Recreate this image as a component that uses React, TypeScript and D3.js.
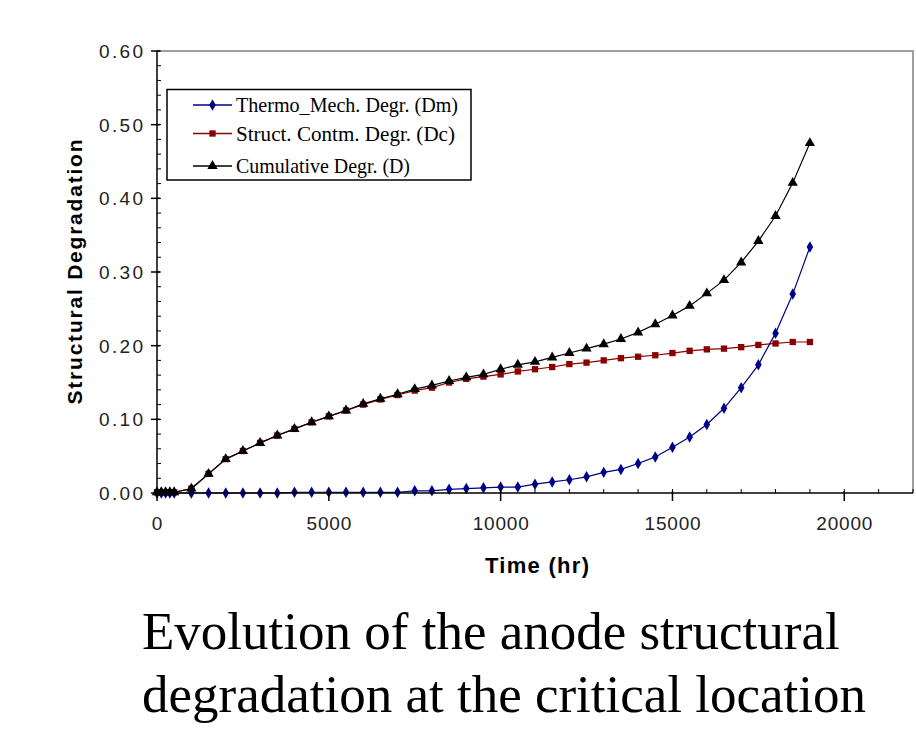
import React from "react";
import * as d3 from "d3";

const timeHr = [0, 125, 250, 375, 500, 1000, 1500, 2000, 2500, 3000, 3500, 4000, 4500, 5000, 5500, 6000, 6500, 7000, 7500, 8000, 8500, 9000, 9500, 10000, 10500, 11000, 11500, 12000, 12500, 13000, 13500, 14000, 14500, 15000, 15500, 16000, 16500, 17000, 17500, 18000, 18500, 19000];

const thermoMech = [0, 0, 0, 0, 0, 0, 0, 0, 0, 0, 0, 0.001, 0.001, 0.001, 0.001, 0.001, 0.001, 0.001, 0.003, 0.003, 0.005, 0.006, 0.007, 0.008, 0.008, 0.012, 0.015, 0.018, 0.022, 0.028, 0.032, 0.040, 0.049, 0.062, 0.076, 0.093, 0.115, 0.143, 0.174, 0.217, 0.270, 0.334];

const structContm = [0.001, 0.001, 0.001, 0.001, 0.001, 0.006, 0.026, 0.046, 0.057, 0.068, 0.078, 0.087, 0.096, 0.104, 0.112, 0.120, 0.127, 0.133, 0.139, 0.143, 0.150, 0.155, 0.158, 0.161, 0.165, 0.168, 0.171, 0.175, 0.177, 0.180, 0.183, 0.185, 0.187, 0.190, 0.193, 0.195, 0.196, 0.198, 0.201, 0.203, 0.205, 0.205];

const cumulative = [0.001, 0.001, 0.001, 0.001, 0.001, 0.006, 0.026, 0.046, 0.057, 0.068, 0.078, 0.087, 0.096, 0.104, 0.112, 0.121, 0.128, 0.134, 0.141, 0.146, 0.152, 0.157, 0.161, 0.168, 0.174, 0.178, 0.184, 0.190, 0.196, 0.202, 0.209, 0.218, 0.229, 0.241, 0.254, 0.271, 0.289, 0.313, 0.342, 0.376, 0.421, 0.475];

const seriesNames = ["Thermo_Mech. Degr. (Dm)", "Struct. Contm. Degr. (Dc)", "Cumulative Degr. (D)"];
const seriesColors = ["#000088", "#8b0000", "#000000"];

const xMajorTicks = [0, 5000, 10000, 15000, 20000];
const yMajorTicks = [0, 0.1, 0.2, 0.3, 0.4, 0.5, 0.6];

const captionLines = ["Evolution of the anode structural", "degradation at the critical location"];

export default function App() {
  const left = 157, right = 913, top = 51, bottom = 493;
  const x = d3.scaleLinear().domain([0, 22000]).range([left, right]);
  const y = d3.scaleLinear().domain([0, 0.6]).range([bottom, top]);

  const xMinor = d3.range(0, 22001, 1000);
  const yMinor = d3.range(0, 0.6001, 0.02);

  const series = [
    { name: seriesNames[1], color: seriesColors[1], values: structContm, symbol: d3.symbolSquare, size: 40 },
    { name: seriesNames[0], color: seriesColors[0], values: thermoMech, symbol: d3.symbolDiamond, size: 38 },
    { name: seriesNames[2], color: seriesColors[2], values: cumulative, symbol: d3.symbolTriangle, size: 46 },
  ];

  const line = d3.line<[number, number]>().x((d) => x(d[0])).y((d) => y(d[1]));
  const fmtY = d3.format(".2f");

  const legendItems = [
    { name: seriesNames[0], color: seriesColors[0], symbol: d3.symbolDiamond, size: 38, len: 222 },
    { name: seriesNames[1], color: seriesColors[1], symbol: d3.symbolSquare, size: 40, len: 219 },
    { name: seriesNames[2], color: seriesColors[2], symbol: d3.symbolTriangle, size: 46, len: 174 },
  ];
  const legendRowY = [105, 133.5, 166];

  return (
    <svg width={916} height={734} style={{ position: "absolute", left: 0, top: 0, background: "#fff" }}>
      <rect x={0} y={0} width={916} height={734} fill="#fff" />
      <path d={`M${left},${top}H${right}V${bottom}`} fill="none" stroke="#a0a0a0" strokeWidth={2} />

      {series.map((s) => {
        const pts = timeHr.map((t, i) => [t, s.values[i]] as [number, number]);
        const sym = d3.symbol().type(s.symbol).size(s.size)();
        return (
          <g key={s.name}>
            <path d={line(pts) || ""} fill="none" stroke={s.color} strokeWidth={1.2} />
            {pts.map((p, i) => (
              <path key={i} d={sym || ""} transform={`translate(${x(p[0])},${y(p[1])})`} fill={s.color} />
            ))}
          </g>
        );
      })}

      <line x1={left} x2={right} y1={bottom} y2={bottom} stroke="#000" strokeWidth={1.5} />
      <line x1={left} x2={left} y1={top} y2={bottom} stroke="#000" strokeWidth={1.5} />
      {xMinor.map((t) => (
        <line key={"xm" + t} x1={x(t)} x2={x(t)} y1={bottom - 4} y2={bottom} stroke="#000" strokeWidth={1} />
      ))}
      {yMinor.map((t, i) => (
        <line key={"ym" + i} x1={left} x2={left + 4} y1={y(t)} y2={y(t)} stroke="#000" strokeWidth={1} />
      ))}
      {xMajorTicks.map((t) => (
        <g key={"xM" + t}>
          <line x1={x(t)} x2={x(t)} y1={bottom - 2} y2={bottom + 8} stroke="#000" strokeWidth={1.5} />
          <text x={x(t) + 0.5} y={530} textAnchor="middle" fontFamily="Liberation Sans, Arial, sans-serif" fontSize={19} letterSpacing={0.8} fill="#222">
            {t}
          </text>
        </g>
      ))}
      {yMajorTicks.map((t) => (
        <g key={"yM" + t}>
          <line x1={left - 6} x2={left + 3} y1={y(t)} y2={y(t)} stroke="#000" strokeWidth={1.5} />
          <text x={143} y={y(t) + 7} textAnchor="end" fontFamily="Liberation Sans, Arial, sans-serif" fontSize={19} textLength={44} lengthAdjust="spacing" fill="#222">
            {fmtY(t)}
          </text>
        </g>
      ))}

      <text x={537} y={573} textAnchor="middle" fontFamily="Liberation Sans, Arial, sans-serif" fontWeight="bold" fontSize={22} textLength={104} lengthAdjust="spacing" fill="#000">
        Time (hr)
      </text>
      <text transform={`translate(82,${(top + bottom) / 2}) rotate(-90)`} textAnchor="middle" fontFamily="Liberation Sans, Arial, sans-serif" fontWeight="bold" fontSize={21} textLength={265} lengthAdjust="spacing" fill="#000">
        Structural Degradation
      </text>

      <rect x={167} y={89.5} width={304} height={90.5} fill="#fff" stroke="#000" strokeWidth={1.5} />
      {legendItems.map((it, i) => {
        const sym = d3.symbol().type(it.symbol).size(it.size)();
        return (
          <g key={"lg" + i}>
            <line x1={193} x2={232} y1={legendRowY[i]} y2={legendRowY[i]} stroke={it.color} strokeWidth={1.5} />
            <path d={sym || ""} transform={`translate(212.5,${legendRowY[i]})`} fill={it.color} />
            <text x={236} y={legendRowY[i] + 7} fontFamily="Liberation Serif, Times New Roman, serif" fontSize={22} textLength={it.len} lengthAdjust="spacingAndGlyphs" fill="#000">
              {it.name}
            </text>
          </g>
        );
      })}

      {captionLines.map((c, i) => (
        <text key={"cap" + i} x={142} y={[649, 712][i]} fontFamily="Liberation Serif, Times New Roman, serif" fontSize={53} fill="#000">
          {c}
        </text>
      ))}
    </svg>
  );
}
